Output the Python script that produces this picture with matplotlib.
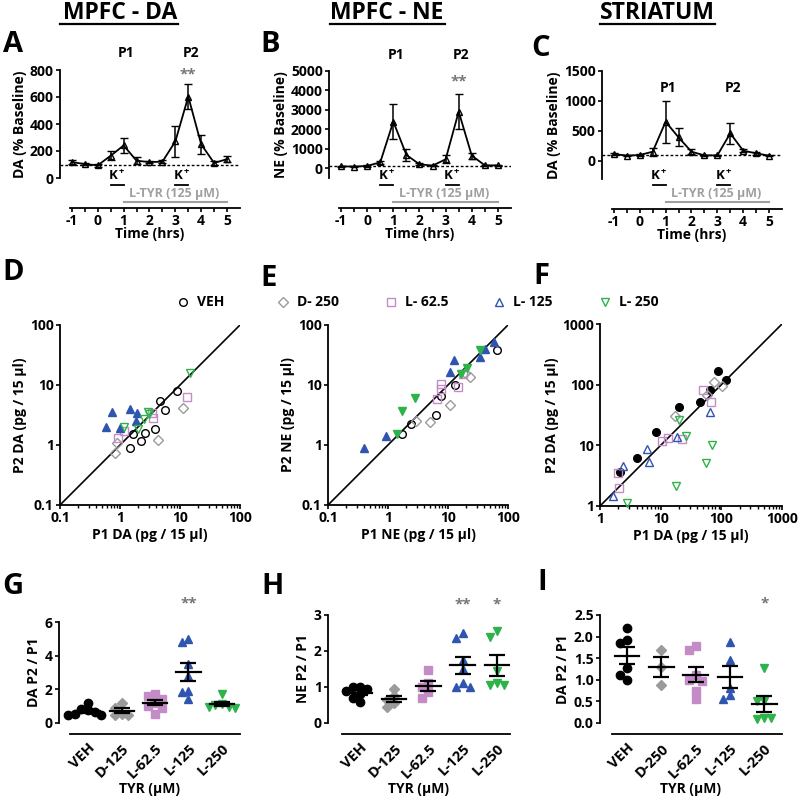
import numpy as np
import matplotlib
matplotlib.use('Agg')
import matplotlib.pyplot as plt
from matplotlib import transforms
from matplotlib.lines import Line2D

plt.rcParams['font.family'] = ['Open Sans', 'DejaVu Sans']
plt.rcParams['font.weight'] = 'bold'
plt.rcParams['axes.labelweight'] = 'bold'
plt.rcParams['mathtext.fontset'] = 'custom'
plt.rcParams['mathtext.rm'] = 'Open Sans:bold'
plt.rcParams['mathtext.bf'] = 'Open Sans:bold'
plt.rcParams['axes.linewidth'] = 1.3

# ---- data ----
time_hrs = [-1, -0.5, 0, 0.5, 1, 1.5, 2, 2.5, 3, 3.5, 4, 4.5, 5]
mpfc_da = [118, 103, 94, 165, 241, 128, 118, 121, 271, 603, 249, 111, 140]
mpfc_da_err = [15, 10, 10, 35, 59, 27, 10, 10, 117, 94, 68, 12, 25]
mpfc_ne = [100, 86, 120, 308, 2400, 685, 205, 137, 460, 2910, 650, 150, 150]
mpfc_ne_err = [40, 30, 30, 90, 900, 330, 60, 40, 200, 900, 150, 40, 40]
str_da = [117, 89, 100, 155, 655, 394, 155, 94, 94, 461, 172, 128, 89]
str_da_err = [20, 10, 15, 67, 350, 150, 40, 10, 10, 170, 25, 20, 10]
k_pulses = [(0.5, 1.0), (3.0, 3.5)]
ltyr_period = (1, 5)
baseline = 100

groups = ['VEH', 'D- 250', 'L- 62.5', 'L- 125', 'L- 250']
group_markers = ['o', 'D', 's', '^', 'v']
group_colors = ['black', '#9b9b9b', '#c48cc6', '#2f55b0', '#2eb34b']

# P1 vs P2 (pg / 15 ul), per group: (P1 values, P2 values)
scatter_d = {
    'VEH': ([1.47, 1.63, 2.24, 2.6, 3.8, 4.6, 5.6, 8.8], [0.88, 1.5, 1.17, 1.56, 1.87, 5.5, 3.8, 7.9]),
    'D- 250': ([0.83, 0.9, 4.35, 11.1], [0.73, 1.1, 1.21, 4.2]),
    'L- 62.5': ([0.94, 1.17, 3.37, 3.5, 12.9], [1.29, 1.73, 3.46, 2.78, 6.2]),
    'L- 125': ([0.58, 0.74, 1.0, 1.47, 1.9, 1.82], [1.97, 3.5, 1.9, 4.0, 3.46, 2.5]),
    'L- 250': ([1.18, 2.02, 2.5, 3.08, 2.97, 14.7], [2.02, 1.82, 2.68, 3.24, 3.6, 15.6]),
}
scatter_e = {
    'VEH': ([1.73, 2.45, 6.4, 7.7, 13.2, 66], [1.53, 2.24, 3.2, 6.5, 10.1, 38]),
    'D- 250': ([2.89, 4.95, 10.9, 19, 23], [2.48, 2.45, 4.7, 15.6, 13.4]),
    'L- 62.5': ([6.6, 7.7, 7.7, 14.7, 17.8], [5.8, 8.6, 10.4, 9.4, 15.2]),
    'L- 125': ([0.4, 0.91, 10.7, 12.6, 33.7, 42, 58], [0.89, 1.39, 16.3, 26.4, 29.6, 40, 53]),
    'L- 250': ([1.43, 1.71, 2.78, 16.3, 20.7, 33.7], [1.52, 3.73, 6.1, 15.3, 19, 38.8]),
}
scatter_f = {
    'VEH': ([2.14, 4.1, 8.4, 19.7, 44.8, 65, 88, 119], [3.6, 6.1, 16.6, 43, 51, 82, 169, 121]),
    'D- 250': ([17.3, 57.7, 76, 102], [30, 67, 111, 95]),
    'L- 62.5': ([1.96, 2.08, 10.4, 13.4, 22.9, 49, 68], [3.5, 1.96, 11.6, 13.2, 12.7, 82, 52]),
    'L- 125': ([1.66, 2.37, 5.9, 6.4, 18.9, 65.5], [1.48, 4.5, 8.7, 5.4, 13.7, 35]),
    'L- 250': ([2.83, 17.7, 20.4, 26, 55.6, 69.8], [1.13, 2.14, 26.6, 14.1, 5.1, 10.3]),
}

# P2 / P1 ratios
ratio_g = [[1.2, 0.85, 0.75, 0.65, 0.55, 0.5, 0.5],
           [1.2, 0.9, 0.55, 0.45, 0.5],
           [1.75, 1.6, 1.4, 1.2, 1.0, 0.9, 0.55],
           [5.0, 4.8, 3.5, 2.8, 1.9, 1.85, 1.4],
           [1.75, 1.15, 1.05, 0.95, 0.95, 0.9]]
ratio_h = [[1.0, 1.0, 0.95, 0.9, 0.8, 0.7, 0.58],
           [0.95, 0.75, 0.65, 0.55, 0.45],
           [1.48, 1.1, 1.0, 0.85, 0.7],
           [2.5, 2.35, 1.75, 1.5, 1.1, 1.0, 1.0],
           [2.55, 2.4, 1.45, 1.1, 1.05, 1.05]]
ratio_i = [[2.2, 1.93, 1.85, 1.27, 1.12, 1.0],
           [1.7, 1.3, 0.88],
           [1.78, 1.68, 1.1, 1.0, 0.97, 0.73, 0.55],
           [1.88, 1.45, 0.82, 0.65, 0.55],
           [1.28, 0.52, 0.5, 0.12, 0.1, 0.12]]
labels_g = ['VEH', 'D-125', 'L-62.5', 'L-125', 'L-250']
labels_i = ['VEH', 'D-250', 'L-62.5', 'L-125', 'L-250']

W, H = 800, 799
fig = plt.figure(figsize=(W / 100, H / 100), dpi=100)
pix = transforms.Affine2D().scale(1 / W, -1 / H).translate(0, 1) + fig.transFigure

TICK = 10
LAB = 10


def box(x0, y0, x1, y1):
    return fig.add_axes([x0 / W, 1 - y1 / H, (x1 - x0) / W, (y1 - y0) / H])


def fig_text(x, y, s, **kw):
    fig.text(x / W, 1 - y / H, s, **kw)


# ---- titles & panel letters ----
for cx, x0, x1, title in [(120, 60, 178, 'MPFC - DA'), (387, 330, 445, 'MPFC - NE'),
                          (657, 600, 715, 'STRIATUM')]:
    fig_text(cx, 13, title, ha='center', va='center', fontsize=16.5)
    fig.add_artist(Line2D([x0, x1], [24, 24], transform=pix, color='black', lw=1.6))

for x, y, s in [(13, 44, 'A'), (270, 44, 'B'), (541, 48, 'C'),
                (13, 273, 'D'), (269, 278, 'E'), (541, 277, 'F'),
                (13, 587, 'G'), (272, 587, 'H'), (542, 583, 'I')]:
    fig_text(x, y, s, ha='center', va='center', fontsize=21)


# ---- time course panels ----
def time_panel(rect, vals, err, ylim, yticks, ylabel, p_y, star_y):
    ax = box(*rect)
    ax.errorbar(time_hrs, vals, yerr=err, color='black', lw=1.3, marker='^', ms=5,
                mfc='none', mec='black', mew=1.0, capsize=3, elinewidth=1.1, clip_on=False)
    ax.axhline(baseline, color='black', ls=(0, (2, 1.5)), lw=1.0)
    ax.set_xlim(-1.46, 5.5)
    ax.set_ylim(*ylim)
    ax.set_yticks(yticks)
    ax.set_xticks(time_hrs)
    ax.set_xticklabels([('%g' % t) if t == int(t) else '' for t in time_hrs])
    for s in ['top', 'right']:
        ax.spines[s].set_visible(False)
    ax.spines['bottom'].set_position(('outward', 21.6))
    ax.spines['bottom'].set_bounds(-1.08, 5.5)
    ax.spines['left'].set_bounds(ylim[0], yticks[-1])
    ax.tick_params(direction='out', length=3, width=1.2, labelsize=TICK, pad=1.5)
    ax.set_ylabel(ylabel, fontsize=LAB, labelpad=2)
    ax.set_xlabel('Time (hrs)', fontsize=LAB, labelpad=-1)
    bt = transforms.blended_transform_factory(ax.transData, pix)
    for t0, t1 in k_pulses:
        ax.text((t0 + t1) / 2, 176, r'$\mathbf{K^+}$', transform=bt, ha='center',
                va='center', fontsize=9.5)
        ax.add_line(Line2D([t0, t1], [184.5, 184.5], transform=bt, color='black',
                           lw=1.3, clip_on=False))
    ax.text(sum(ltyr_period) / 2 - 0.05, 193, 'L-TYR (125 \u00b5M)', transform=bt,
            ha='center', va='center', fontsize=9, color='#a0a0a0')
    ax.add_line(Line2D(list(ltyr_period), [202, 202], transform=bt, color='#a0a0a0',
                       lw=1.5, clip_on=False))
    ax.text(1.1, p_y, 'P1', transform=bt, ha='center', va='center', fontsize=10)
    ax.text(3.6, p_y, 'P2', transform=bt, ha='center', va='center', fontsize=10)
    if star_y is not None:
        ax.text(3.5, star_y, '**', transform=bt, ha='center', va='center',
                fontsize=11, color='#777777')
    return ax


time_panel((60, 70, 240, 178), mpfc_da, mpfc_da_err, (0, 800), [0, 200, 400, 600, 800],
           'DA (% Baseline)', 53, 74)
time_panel((329, 71, 511, 178), mpfc_ne, mpfc_ne_err, (-500, 5000),
           [0, 1000, 2000, 3000, 4000, 5000], 'NE (% Baseline)', 55, 81)
time_panel((602, 71, 782, 179), str_da, str_da_err, (-300, 1500), [0, 500, 1000, 1500],
           'DA (% Baseline)', 88, None)


# ---- scatter panels ----
def scatter_panel(rect, data, lims, filled, xlabel, ylabel):
    ax = box(*rect)
    ax.set_xscale('log')
    ax.set_yscale('log')
    ax.plot(lims, lims, color='black', lw=1.2)
    for g, m, c in zip(groups, group_markers, group_colors):
        p1, p2 = data[g]
        ms = 4.6 if m == 'D' else 5.5
        ax.plot(p1, p2, ls='none', marker=m, ms=ms, mec=c, mew=1.0,
                mfc=c if g in filled else 'none', clip_on=False, zorder=3)
    ax.set_xlim(*lims)
    ax.set_ylim(*lims)
    for s in ['top', 'right']:
        ax.spines[s].set_visible(False)
    ax.xaxis.set_major_formatter(matplotlib.ticker.FuncFormatter(lambda v, p: '%g' % v))
    ax.yaxis.set_major_formatter(matplotlib.ticker.FuncFormatter(lambda v, p: '%g' % v))
    ax.yaxis.set_minor_locator(matplotlib.ticker.NullLocator())
    ax.tick_params(direction='out', length=3, width=1.2, labelsize=TICK, pad=1.5)
    ax.tick_params(which='minor', direction='out', length=2, width=1.0)
    ax.set_xlabel(xlabel, fontsize=LAB, labelpad=2)
    ax.set_ylabel(ylabel, fontsize=LAB, labelpad=2)
    return ax


scatter_panel((60, 325, 240, 505), scatter_d, (0.1, 100), ['L- 125'],
              'P1 DA (pg / 15 \u00b5l)', 'P2 DA (pg / 15 \u00b5l)')
scatter_panel((328, 325, 508, 505), scatter_e, (0.1, 100), ['L- 125', 'L- 250'],
              'P1 NE (pg / 15 \u00b5l)', 'P2 NE (pg / 15 \u00b5l)')
scatter_panel((600, 324, 782, 506), scatter_f, (1, 1000), ['VEH'],
              'P1 DA (pg / 15 \u00b5l)', 'P2 DA (pg / 15 \u00b5l)')

# legend row
for lx, g, m, c in zip([183, 283, 391, 499, 605], groups, group_markers, group_colors):
    ms = 4.6 if m == 'D' else 5.5
    fig.add_artist(Line2D([lx], [302], transform=pix, ls='none', marker=m, ms=ms,
                          mfc='none', mec=c, mew=1.0))
    fig_text(lx + 14, 302, g, ha='left', va='center', fontsize=LAB)


# ---- ratio panels ----
def swarm(vals, dy, dx=0.2):
    offs, placed = [], []
    for v in vals:
        for cand in [0, -dx, dx, -2 * dx, 2 * dx, -3 * dx, 3 * dx]:
            if all(abs(v - pv) >= dy or abs(cand - po) >= dx * 0.99 for pv, po in placed):
                break
        placed.append((v, cand))
        offs.append(cand)
    return offs


def ratio_panel(rect, ratios, labels, ylim, yticks, ylabel, xlim, xbounds, dy, stars, fmt):
    ax = box(*rect)
    for i, (vals, m, c) in enumerate(zip(ratios, group_markers, group_colors)):
        offs = swarm(vals, dy)
        ms = 5.2 if m == 'D' else 6
        ax.plot([i + o for o in offs], vals, ls='none', marker=m, ms=ms, mfc=c, mec=c,
                clip_on=False, zorder=2)
        mean = np.mean(vals)
        sem = np.std(vals, ddof=1) / np.sqrt(len(vals))
        ax.plot([i - 0.36, i + 0.36], [mean, mean], color='black', lw=1.6, zorder=3)
        ax.errorbar([i], [mean], yerr=[sem], color='black', capsize=5.5, elinewidth=1.6,
                    capthick=1.6, zorder=3)
    for i, s, y in stars:
        ax.text(i, y, s, ha='center', va='center', fontsize=11, color='#777777')
    ax.set_xlim(*xlim)
    ax.set_ylim(*ylim)
    ax.set_yticks(yticks)
    ax.yaxis.set_major_formatter(matplotlib.ticker.FormatStrFormatter(fmt))
    for s in ['top', 'right']:
        ax.spines[s].set_visible(False)
    ax.spines['bottom'].set_position(('outward', 8))
    ax.spines['bottom'].set_bounds(*xbounds)
    ax.tick_params(axis='x', length=0, labelsize=10.5, pad=5, labelrotation=45)
    ax.tick_params(axis='y', direction='out', length=3, width=1.2, labelsize=TICK, pad=1.5)
    ax.set_xticks(range(len(labels)), labels, ha='right', rotation_mode='anchor')
    ax.set_ylabel(ylabel, fontsize=LAB, labelpad=3)
    ax.set_xlabel('TYR (\u00b5M)', fontsize=LAB, labelpad=1)
    return ax


ratio_panel((59, 622, 240, 723), ratio_g, labels_g, (0, 6), [0, 2, 4, 6], 'DA P2 / P1',
            (-0.87, 4.54), (-0.54, 4.54), 0.42, [(3, '**', 7.1)], '%g')
ratio_panel((328, 615, 510, 723), ratio_h, labels_g, (0, 3), [0, 1, 2, 3], 'NE P2 / P1',
            (-0.93, 4.38), (-0.53, 4.38), 0.19, [(3, '**', 3.28), (4, '*', 3.28)], '%g')
ratio_panel((600, 615, 782, 723), ratio_i, labels_i, (0, 2.5), [0, 0.5, 1, 1.5, 2, 2.5],
            'DA P2 / P1', (-0.79, 4.52), (-0.44, 4.52), 0.16, [(4, '*', 2.77)], '%.1f')

fig.savefig('out.png', dpi=100)
